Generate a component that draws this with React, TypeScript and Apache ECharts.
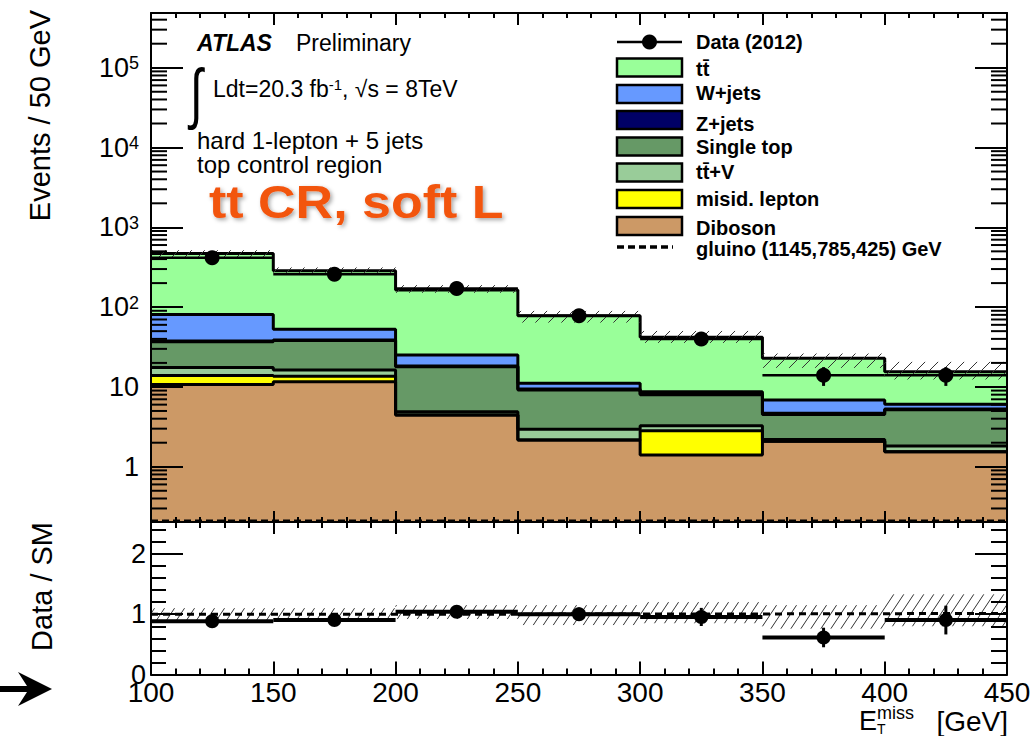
import React, { useEffect, useRef } from "react";
import * as echarts from "echarts";

// Bin edges of the missing transverse energy distribution (GeV)
const binEdges = [100, 150, 200, 250, 300, 350, 400, 450];

// Expected events per bin for each background process
const diboson = [10.7, 11.6, 4.44, 2.16, 1.4, 2.08, 1.54];
const misidLepton = [3.2, 2.0, 0, 0, 1.43, 0, 0];
const ttbarV = [3.6, 2.7, 0.45, 0.78, 0.43, 0.12, 0.28];
const singleTop = [19.3, 21.8, 13.0, 6.2, 4.74, 2.32, 3.36];
const zJets = [0.8, 0.6, 0.4, 0.25, 0.15, 0.15, 0.1];
const wJets = [43.2, 14.0, 6.8, 1.7, 0.55, 2.18, 0.77];
const ttbar = [389, 233, 139, 66.9, 33.2, 15.95, 9.45];

// Observed events (2012) and their statistical uncertainty
const observed = [415, 258, 171, 78, 40, 14, 14];
const observedErr = [20.4, 16.1, 13.1, 8.8, 6.3, 3.7, 3.7];

// Relative uncertainty on the total background (up / down)
const bandUp = [0.1, 0.1, 0.15, 0.15, 0.2, 0.15, 0.33];
const bandDown = [0.1, 0.09, 0.08, 0.18, 0.15, 0.24, 0.2];

// Signal benchmark: gluino (1145,785,425) GeV
const gluino = [0.21, 0.21, 0.21, 0.21, 0.21, 0.21, 0.21];

// Axis ranges
const X_MIN = 100;
const X_MAX = 450;
const Y_MIN = 0.203;
const Y_MAX = 4.85e5;
const RATIO_MAX = 2.53;

const FONT = "'Liberation Sans', Arial, Helvetica, sans-serif";
const BLACK = "#000";

// Background processes from the bottom of the stack to the top
const stackLayers = [
  { name: "Diboson", values: diboson, color: "#cc9966" },
  { name: "misid. lepton", values: misidLepton, color: "#ffff00" },
  { name: "tt\u0304+V", values: ttbarV, color: "#99cc99" },
  { name: "Single top", values: singleTop, color: "#669966" },
  { name: "Z+jets", values: zJets, color: "#000066" },
  { name: "W+jets", values: wJets, color: "#6699ff" },
  { name: "tt\u0304", values: ttbar, color: "#99ff99" },
];

const nBins = binEdges.length - 1;

// Cumulative sums of the stack, one array per layer
const cumulative: number[][] = [];
{
  let run = new Array(nBins).fill(0);
  for (const layer of stackLayers) {
    run = run.map((r: number, i: number) => r + layer.values[i]);
    cumulative.push(run);
  }
}
const totalBkg = cumulative[cumulative.length - 1];

// Histogram outline points for a step line: one point per bin edge
const stepPoints = (vals: number[]) =>
  binEdges.map((x, i) => [x, vals[Math.min(i, nBins - 1)]]);

// Diagonal hatching inside a pixel rectangle
function hatchLines(
  xa: number,
  ya: number,
  xb: number,
  yb: number,
  spacing: number,
  slope: number
) {
  const x0 = Math.min(xa, xb);
  const x1 = Math.max(xa, xb);
  const y0 = Math.min(ya, yb);
  const y1 = Math.max(ya, yb);
  const step = spacing * slope;
  const out: any[] = [];
  const cMin = slope * x0 + y0;
  const cMax = slope * x1 + y1;
  for (let c = Math.ceil(cMin / step) * step; c <= cMax; c += step) {
    const l = Math.max(x0, (c - y1) / slope);
    const r = Math.min(x1, (c - y0) / slope);
    if (r - l < 0.5) continue;
    out.push({
      type: "line",
      shape: { x1: l, y1: c - slope * l, x2: r, y2: c - slope * r },
      style: { stroke: "#333", lineWidth: 1 },
    });
  }
  return out;
}

// Minor ticks of the logarithmic axis (2..9 x 10^n)
const logMinorTicks: number[] = [];
for (let e = -1; e <= 5; e++) {
  for (let m = 2; m <= 9; m++) {
    const v = m * Math.pow(10, e);
    if (v > Y_MIN && v < Y_MAX) logMinorTicks.push(v);
  }
}

const upperLabel = (v: number) => {
  const exp = Math.round(Math.log10(v));
  if (exp <= 1) return String(Math.round(v));
  return `10{sup|${exp}}`;
};

function xAxisDef(
  gridIndex: number,
  position: "top" | "bottom",
  major: number,
  minor: number,
  labels: boolean
) {
  return {
    type: "value",
    gridIndex,
    position,
    min: X_MIN,
    max: X_MAX,
    interval: 50,
    z: 10,
    axisLine: { show: true, onZero: false, lineStyle: { color: BLACK, width: 2 } },
    axisTick: { show: true, inside: true, length: major, lineStyle: { color: BLACK, width: 2 } },
    minorTick: { show: true, splitNumber: 5, length: minor, lineStyle: { color: BLACK, width: 2 } },
    splitLine: { show: false },
    minorSplitLine: { show: false },
    axisLabel: labels
      ? {
          show: true,
          margin: 8,
          fontSize: 28,
          lineHeight: 20,
          fontFamily: FONT,
          color: BLACK,
          showMinLabel: true,
          showMaxLabel: true,
        }
      : { show: false },
  };
}

function buildOption(): any {
  const series: any[] = [];

  // Stacked backgrounds, drawn from the total downwards
  for (let k = stackLayers.length - 1; k >= 0; k--) {
    series.push({
      name: stackLayers[k].name,
      type: "line",
      xAxisIndex: 0,
      yAxisIndex: 0,
      step: "end",
      symbol: "none",
      silent: true,
      z: 2,
      data: stepPoints(cumulative[k]),
      lineStyle: { color: BLACK, width: 3 },
      areaStyle: { color: stackLayers[k].color, opacity: 1, origin: "start" },
    });
  }

  // Uncertainty band on the total background
  series.push({
    type: "custom",
    xAxisIndex: 0,
    yAxisIndex: 0,
    silent: true,
    z: 4,
    data: totalBkg.map((t, i) => [
      binEdges[i],
      binEdges[i + 1],
      t * (1 + bandUp[i]),
      t * (1 - bandDown[i]),
    ]),
    renderItem: (_p: any, api: any) => {
      const a = api.coord([api.value(0), api.value(2)]);
      const b = api.coord([api.value(1), api.value(3)]);
      return { type: "group", children: hatchLines(a[0], a[1], b[0], b[1], 13, 1) };
    },
  });

  // Signal benchmark
  series.push({
    name: "gluino",
    type: "line",
    xAxisIndex: 0,
    yAxisIndex: 0,
    step: "end",
    symbol: "none",
    silent: true,
    z: 5,
    data: stepPoints(gluino),
    lineStyle: { color: BLACK, width: 2.5, type: [7, 4] },
  });

  // Observed data with error bars
  series.push({
    name: "Data (2012)",
    type: "custom",
    xAxisIndex: 0,
    yAxisIndex: 0,
    silent: true,
    z: 6,
    data: observed.map((v, i) => [binEdges[i], binEdges[i + 1], v, observedErr[i]]),
    renderItem: (_p: any, api: any) => {
      const xl = api.value(0);
      const xr = api.value(1);
      const v = api.value(2);
      const e = api.value(3);
      const xc = (xl + xr) / 2;
      const pl = api.coord([xl, v]);
      const pr = api.coord([xr, v]);
      const pt = api.coord([xc, v + e]);
      const pb = api.coord([xc, Math.max(v - e, Y_MIN)]);
      return {
        type: "group",
        children: [
          { type: "line", shape: { x1: pl[0], y1: pl[1], x2: pr[0], y2: pr[1] }, style: { stroke: BLACK, lineWidth: 2.5 } },
          { type: "line", shape: { x1: pt[0], y1: pt[1], x2: pb[0], y2: pb[1] }, style: { stroke: BLACK, lineWidth: 3 } },
          { type: "circle", shape: { cx: (pl[0] + pr[0]) / 2, cy: pl[1], r: 7.5 }, style: { fill: BLACK } },
        ],
      };
    },
  });

  // Minor ticks of the log axis on both sides
  series.push({
    type: "custom",
    xAxisIndex: 0,
    yAxisIndex: 0,
    silent: true,
    z: 10,
    data: logMinorTicks.map((v) => [X_MIN, v]),
    renderItem: (_p: any, api: any) => {
      const v = api.value(1);
      const l = api.coord([X_MIN, v]);
      const r = api.coord([X_MAX, v]);
      return {
        type: "group",
        children: [
          { type: "line", shape: { x1: l[0], y1: l[1], x2: l[0] + 16, y2: l[1] }, style: { stroke: BLACK, lineWidth: 2 } },
          { type: "line", shape: { x1: r[0] - 16, y1: r[1], x2: r[0], y2: r[1] }, style: { stroke: BLACK, lineWidth: 2 } },
        ],
      };
    },
  });

  // Ratio panel: uncertainty band around 1
  series.push({
    type: "custom",
    xAxisIndex: 2,
    yAxisIndex: 2,
    silent: true,
    z: 4,
    data: bandUp.map((u, i) => [binEdges[i], binEdges[i + 1], 1 + u, 1 - bandDown[i]]),
    renderItem: (_p: any, api: any) => {
      const a = api.coord([api.value(0), api.value(2)]);
      const b = api.coord([api.value(1), api.value(3)]);
      return { type: "group", children: hatchLines(a[0], a[1], b[0], b[1], 10, 1.5) };
    },
  });

  // Ratio panel: (SM + signal) / SM
  series.push({
    type: "line",
    xAxisIndex: 2,
    yAxisIndex: 2,
    step: "end",
    symbol: "none",
    silent: true,
    z: 5,
    data: stepPoints(totalBkg.map((t, i) => (t + gluino[i]) / t)),
    lineStyle: { color: BLACK, width: 3, type: [7, 5] },
  });

  // Ratio panel: data / SM
  series.push({
    type: "custom",
    xAxisIndex: 2,
    yAxisIndex: 2,
    silent: true,
    z: 6,
    data: observed.map((v, i) => [
      binEdges[i],
      binEdges[i + 1],
      v / totalBkg[i],
      observedErr[i] / totalBkg[i],
    ]),
    renderItem: (_p: any, api: any) => {
      const xl = api.value(0);
      const xr = api.value(1);
      const v = api.value(2);
      const e = api.value(3);
      const xc = (xl + xr) / 2;
      const pl = api.coord([xl, v]);
      const pr = api.coord([xr, v]);
      const pt = api.coord([xc, v + e]);
      const pb = api.coord([xc, v - e]);
      return {
        type: "group",
        children: [
          { type: "line", shape: { x1: pl[0], y1: pl[1], x2: pr[0], y2: pr[1] }, style: { stroke: BLACK, lineWidth: 4 } },
          { type: "line", shape: { x1: pt[0], y1: pt[1], x2: pb[0], y2: pb[1] }, style: { stroke: BLACK, lineWidth: 3 } },
          { type: "ellipse", shape: { cx: (pl[0] + pr[0]) / 2, cy: pl[1], rx: 7, ry: 7 }, style: { fill: BLACK } },
        ],
      };
    },
  });

  // Legend, drawn top to bottom
  const colorOf = (name: string) => stackLayers.find((l) => l.name === name)!.color;
  const legendRows = [
    { kind: "data", label: "Data (2012)", y: 42, ty: 42 },
    { kind: "box", label: "tt\u0304", y: 67.5, ty: 69 },
    { kind: "box", label: "W+jets", y: 94, ty: 93 },
    { kind: "box", label: "Z+jets", y: 120, ty: 124 },
    { kind: "box", label: "Single top", y: 146.5, ty: 147 },
    { kind: "box", label: "tt\u0304+V", y: 172.5, ty: 172 },
    { kind: "box", label: "misid. lepton", y: 199, ty: 199 },
    { kind: "box", label: "Diboson", y: 226, ty: 228 },
    { kind: "dash", label: "gluino (1145,785,425) GeV", y: 247, ty: 249 },
  ];
  const LX = 617;
  const LW = 65;
  const legendEls: any[] = [];
  for (const row of legendRows) {
    if (row.kind === "box") {
      legendEls.push({
        type: "rect",
        shape: { x: LX, y: row.y - 9, width: LW, height: 18 },
        style: { fill: colorOf(row.label), stroke: BLACK, lineWidth: 2.5 },
      });
    } else if (row.kind === "data") {
      legendEls.push({
        type: "line",
        shape: { x1: LX, y1: row.y, x2: LX + LW, y2: row.y },
        style: { stroke: BLACK, lineWidth: 2.5 },
      });
      legendEls.push({
        type: "circle",
        shape: { cx: LX + LW / 2, cy: row.y, r: 7.5 },
        style: { fill: BLACK },
      });
    } else {
      legendEls.push({
        type: "line",
        shape: { x1: LX, y1: row.y, x2: LX + 56, y2: row.y },
        style: { stroke: BLACK, lineWidth: 3.5, lineDash: [7, 4] },
      });
    }
    legendEls.push({
      type: "text",
      x: 696,
      y: row.ty,
      style: {
        text: row.label,
        fontSize: 20,
        fontWeight: "bold",
        fontFamily: FONT,
        fill: BLACK,
        verticalAlign: "middle",
      },
    });
  }

  const txt = (x: number, y: number, text: string, extra: any = {}, tf: any = {}) => ({
    type: "text",
    x,
    y,
    ...tf,
    style: { text, fontSize: 24, fontFamily: FONT, fill: BLACK, verticalAlign: "middle", ...extra },
  });

  const graphicEls: any[] = [
    ...legendEls,
    txt(197, 42.5, "ATLAS", { fontSize: 23, fontWeight: "bold", fontStyle: "italic" }),
    txt(296, 42.5, "Preliminary", { fontSize: 23 }),
    txt(190, 92.5, "\u222B", { fontSize: 46 }, { scaleY: 1.45 }),
    txt(213, 89, "Ldt=20.3 fb{sup|-1}, \u221As = 8TeV", {
      fontSize: 23,
      rich: { sup: { fontSize: 15, fontFamily: FONT, fill: BLACK, verticalAlign: "top", padding: [0, 0, 10, 0] } },
    }),
    txt(197, 140, "hard 1-lepton + 5 jets"),
    txt(197, 164.5, "top control region"),
    txt(
      209,
      202,
      "tt CR, soft L",
      {
        fontSize: 46,
        fontWeight: "bold",
        fill: "#f25410",
        textShadowColor: "rgba(0,0,0,0.35)",
        textShadowBlur: 4,
        textShadowOffsetX: 2,
        textShadowOffsetY: 2,
      },
      { scaleX: 1.13 }
    ),
    // axis titles
    {
      type: "text",
      x: 39.5,
      y: 10,
      rotation: Math.PI / 2,
      style: { text: "Events / 50 GeV", fontSize: 29, fontFamily: FONT, fill: BLACK, align: "right", verticalAlign: "middle" },
    },
    {
      type: "text",
      x: 42,
      y: 522,
      rotation: Math.PI / 2,
      style: { text: "Data / SM", fontSize: 29, fontFamily: FONT, fill: BLACK, align: "right", verticalAlign: "middle" },
    },
    txt(859, 721, "E", { fontSize: 27 }),
    txt(877, 713, "miss", { fontSize: 18 }),
    txt(877, 729, "T", { fontSize: 14 }),
    txt(1008, 721, "[GeV]", { fontSize: 28, align: "right" }),
    // arrow pointing at the axis
    {
      type: "polygon",
      shape: {
        points: [
          [0, 686],
          [27, 686],
          [18, 672],
          [52, 689],
          [18, 706],
          [27, 692],
          [0, 692],
        ],
      },
      style: { fill: BLACK },
    },
  ];

  return {
    animation: false,
    backgroundColor: "#fff",
    grid: [
      { left: 151, top: 13, width: 856, height: 509 },
      { left: 151, top: 522, width: 856, height: 152.5 },
    ],
    xAxis: [
      xAxisDef(0, "bottom", 11, 5, false),
      xAxisDef(0, "top", 12, 5, false),
      xAxisDef(1, "bottom", 13, 6, true),
      xAxisDef(1, "top", 12, 6, false),
    ],
    yAxis: [
      {
        type: "log",
        logBase: 10,
        gridIndex: 0,
        position: "left",
        min: Y_MIN,
        max: Y_MAX,
        z: 10,
        axisLine: { show: true, onZero: false, lineStyle: { color: BLACK, width: 2 } },
        axisTick: { show: true, inside: true, length: 32, lineStyle: { color: BLACK, width: 2 } },
        minorTick: { show: false },
        splitLine: { show: false },
        axisLabel: {
          show: true,
          margin: 12,
          fontSize: 27,
          fontFamily: FONT,
          color: BLACK,
          showMinLabel: false,
          showMaxLabel: false,
          formatter: upperLabel,
          rich: {
            sup: { fontSize: 18, fontFamily: FONT, color: BLACK, verticalAlign: "top" },
          },
        },
      },
      {
        type: "log",
        logBase: 10,
        gridIndex: 0,
        position: "right",
        min: Y_MIN,
        max: Y_MAX,
        z: 10,
        axisLine: { show: true, onZero: false, lineStyle: { color: BLACK, width: 2 } },
        axisTick: { show: true, inside: true, length: 32, lineStyle: { color: BLACK, width: 2 } },
        minorTick: { show: false },
        splitLine: { show: false },
        axisLabel: { show: false },
      },
      {
        type: "value",
        gridIndex: 1,
        position: "left",
        min: 0,
        max: RATIO_MAX,
        interval: 1,
        z: 10,
        axisLine: { show: true, onZero: false, lineStyle: { color: BLACK, width: 2 } },
        axisTick: { show: true, inside: true, length: 32, lineStyle: { color: BLACK, width: 2 } },
        minorTick: { show: true, splitNumber: 5, length: 15, lineStyle: { color: BLACK, width: 2 } },
        splitLine: { show: false },
        minorSplitLine: { show: false },
        axisLabel: {
          show: true,
          margin: 5,
          fontSize: 27,
          fontFamily: FONT,
          color: BLACK,
          showMinLabel: true,
          showMaxLabel: false,
        },
      },
      {
        type: "value",
        gridIndex: 1,
        position: "right",
        min: 0,
        max: RATIO_MAX,
        interval: 1,
        z: 10,
        axisLine: { show: true, onZero: false, lineStyle: { color: BLACK, width: 2 } },
        axisTick: { show: true, inside: true, length: 32, lineStyle: { color: BLACK, width: 2 } },
        minorTick: { show: true, splitNumber: 5, length: 16, lineStyle: { color: BLACK, width: 2 } },
        splitLine: { show: false },
        minorSplitLine: { show: false },
        axisLabel: { show: false },
      },
    ],
    series,
    graphic: { elements: graphicEls.map((el) => ({ ...el, z: 100 })) },
  };
}

export default function App() {
  const ref = useRef<HTMLDivElement>(null);
  useEffect(() => {
    if (!ref.current) return;
    const chart = echarts.init(ref.current, undefined, { renderer: "svg" });
    chart.setOption(buildOption());
    return () => chart.dispose();
  }, []);
  return (
    <div
      ref={ref}
      style={{ position: "absolute", left: 0, top: 0, width: 1034, height: 736, background: "#fff" }}
    />
  );
}
